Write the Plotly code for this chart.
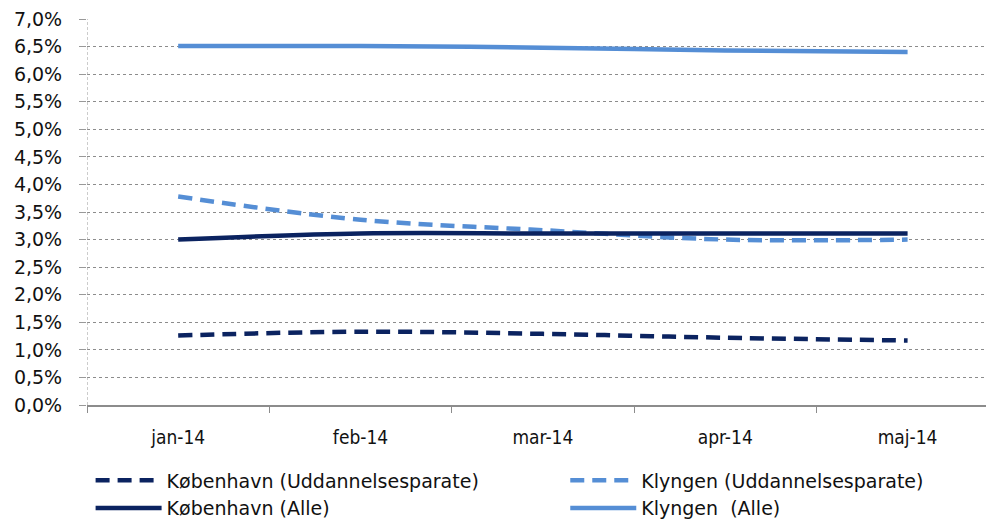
import plotly.graph_objects as go

months = ["jan-14", "feb-14", "mar-14", "apr-14", "maj-14"]
kbh_udd = [1.26, 1.33, 1.29, 1.22, 1.17]
klyngen_udd = [3.78, 3.36, 3.17, 3.0, 3.0]
kbh_alle = [3.0, 3.11, 3.11, 3.11, 3.11]
klyngen_alle = [6.51, 6.51, 6.48, 6.43, 6.40]

navy = "#0B2360"
light = "#558ED5"
narrow = "DejaVu Sans Condensed, Liberation Sans Narrow, Liberation Sans, sans-serif"
wide = "DejaVu Sans, Liberation Sans, sans-serif"

fig = go.Figure()
fig.add_trace(go.Scatter(x=months, y=kbh_udd, name="København (Uddannelsesparate)", mode="lines",
                         legend="legend",
                         line=dict(color=navy, width=4.5, dash="14px,8px", shape="spline")))
fig.add_trace(go.Scatter(x=months, y=klyngen_udd, name="Klyngen (Uddannelsesparate)", mode="lines",
                         legend="legend2",
                         line=dict(color=light, width=4.5, dash="14px,8px", shape="spline")))
fig.add_trace(go.Scatter(x=months, y=kbh_alle, name="København (Alle)", mode="lines",
                         legend="legend",
                         line=dict(color=navy, width=4.5, shape="spline")))
fig.add_trace(go.Scatter(x=months, y=klyngen_alle, name="Klyngen  (Alle)", mode="lines",
                         legend="legend2",
                         line=dict(color=light, width=4.5, shape="spline")))

# dashed vertical y axis line
fig.add_shape(type="line", xref="x", yref="paper", x0=-0.5, x1=-0.5, y0=0, y1=1,
              line=dict(color="#999999", width=1, dash="3px,2px"))

leg = dict(orientation="v", yanchor="top", itemwidth=66, tracegroupgap=0,
           font=dict(size=19, family=wide, color="#111111"), bgcolor="rgba(0,0,0,0)")

fig.update_layout(
    width=986, height=521,
    margin=dict(l=87, r=0, t=19, b=116, autoexpand=False),
    plot_bgcolor="white", paper_bgcolor="white",
    separators=",.",
    font=dict(family=narrow, size=19, color="#111111"),
    showlegend=True,
    legend=dict(leg, x=0.004, xanchor="left", y=-0.146),
    legend2=dict(leg, x=0.532, xanchor="left", y=-0.146),
)
fig.update_xaxes(range=[-0.5, 4.43], showgrid=False, showline=True, linecolor="#8c8c8c", linewidth=2,
                 ticks="outside", tickson="boundaries", ticklen=6, tickcolor="#8c8c8c",
                 ticklabelstandoff=14, automargin=False)
fig.update_yaxes(range=[0, 7], dtick=0.5, tickformat=".1f", ticksuffix="%",
                 showgrid=True, gridcolor="#8c8c8c", griddash="dot", gridwidth=1,
                 zeroline=False, showline=False, ticks="outside", ticklen=7, tickcolor="#999999",
                 ticklabelstandoff=13, automargin=False,
                 tickfont=dict(family=wide, size=19))

# page body has a default 8px margin; remove it so the figure sits at the top-left corner
fig.write_html("out.html", config={"displayModeBar": False},
               post_script="document.body.style.margin='0';")
